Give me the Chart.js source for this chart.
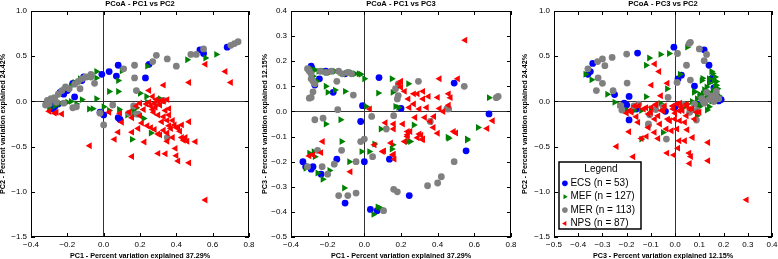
<!DOCTYPE html>
<html><head><meta charset="utf-8">
<script src="https://cdn.jsdelivr.net/npm/chart.js@4"></script>
<style>
html,body{margin:0;padding:0;background:#fff}
#wrap{position:relative;width:778px;height:259px;overflow:hidden;background:#fff}
canvas{position:absolute;top:0}
</style>
</head><body>
<div id="wrap">
<canvas id="c1" width="258" height="259" style="left:0"></canvas>
<canvas id="c2" width="260" height="259" style="left:258px"></canvas>
<canvas id="c3" width="260" height="259" style="left:518px"></canvas>
</div>
<script>
// ---------- DATA ----------
const seriesNames = ['ECS (n = 53)', 'MEF (n = 127)', 'MER (n = 113)', 'NPS (n = 87)'];
const panelTitles = ['PCoA - PC1 vs PC2', 'PCoA - PC1 vs PC3', 'PCoA - PC3 vs PC2'];
const axisPC1 = 'PC1 - Percent variation explained 37.29%';
const axisPC2 = 'PC2 - Percent variation explained 24.42%';
const axisPC3 = 'PC3 - Percent variation explained 12.15%';
const legendTitle = 'Legend';

const ticksPC1 = [-0.4, -0.2, 0.0, 0.2, 0.4, 0.6, 0.8];
const ticksPC2 = [-1.5, -1.0, -0.5, 0.0, 0.5, 1.0];
const ticksPC3v = [-0.5, -0.4, -0.3, -0.2, -0.1, 0.0, 0.1, 0.2, 0.3, 0.4];
const ticksPC3h = [-0.5, -0.4, -0.3, -0.2, -0.1, 0.0, 0.1, 0.2, 0.3, 0.4];

// Panel 1: PC1 (x) vs PC2 (y)
const ecs12 = [[0.68,0.60],[0.55,0.53],[0.53,0.57],[0.25,0.41],[0.23,0.26],[0.08,0.40],[0.03,0.33],[0.07,0.28],[-0.01,0.30],[-0.11,0.27],[-0.12,0.23],[-0.17,0.20],[-0.16,0.05],[-0.22,0.08],[-0.20,0.12],[-0.24,0.10],[-0.29,-0.05],[-0.27,-0.06],[-0.30,-0.02],[-0.25,-0.03],[0.00,-0.15],[-0.02,-0.12],[0.09,-0.20],[0.08,-0.18],[-0.28,-0.08]];
const mef12 = [[0.62,0.52],[0.56,0.48],[0.46,0.46],[0.24,0.39],[0.10,0.34],[0.08,0.23],[0.08,0.11],[0.03,0.11],[-0.04,0.33],[-0.04,0.26],[-0.08,0.27],[-0.13,0.25],[-0.16,0.21],[-0.18,0.17],[-0.22,0.13],[-0.25,0.07],[-0.27,0.04],[-0.29,0.01],[-0.04,0.03],[-0.06,-0.08],[-0.08,-0.085],[-0.15,-0.03],[-0.20,-0.01],[-0.24,-0.02],[-0.30,-0.08],[-0.27,-0.05],[0.31,0.03],[0.20,0.09],[0.235,0.055],[0.24,-0.01],[0.18,-0.07],[0.16,-0.10],[0.16,-0.14],[0.13,-0.15],[0.03,-0.10],[0.085,-0.09],[0.22,-0.19],[0.156,-0.42],[0.26,-0.35],[-0.12,0.02],[-0.18,0.00],[0.00,-0.06]];
const mer12 = [[0.74,0.66],[0.72,0.64],[0.70,0.62],[0.55,0.58],[0.51,0.52],[0.48,0.52],[0.40,0.39],[0.35,0.47],[0.29,0.51],[0.27,0.44],[0.17,0.40],[0.11,0.36],[0.17,0.26],[0.18,0.12],[-0.05,0.20],[-0.07,0.30],[-0.07,0.27],[-0.10,0.27],[-0.12,0.25],[-0.14,0.22],[-0.16,0.19],[-0.19,0.14],[-0.21,0.16],[-0.23,0.12],[-0.25,0.08],[-0.27,0.04],[-0.29,0.03],[-0.31,0.01],[-0.32,-0.04],[-0.30,-0.03],[-0.13,0.14],[-0.17,-0.07],[-0.15,-0.06],[-0.02,-0.13],[0.00,-0.26],[0.05,-0.04],[0.14,-0.13],[0.19,-0.14],[0.165,-0.05],[0.18,-0.14],[0.29,-0.03],[0.33,0.01],[0.35,-0.40],[-0.22,-0.02],[-0.26,-0.01]];
const nps12 = [[0.67,0.33],[0.70,0.21],[0.56,0.41],[0.47,0.21],[0.33,0.18],[0.25,0.12],[0.27,0.055],[0.32,0.01],[0.35,0.02],[0.33,0.00],[0.30,0.00],[0.235,-0.03],[0.26,-0.05],[0.285,-0.066],[0.22,-0.09],[0.275,-0.12],[0.34,-0.10],[0.156,-0.18],[0.32,-0.225],[0.35,-0.21],[0.38,-0.21],[0.47,-0.225],[0.24,-0.27],[0.26,-0.29],[0.33,-0.32],[0.37,-0.30],[0.40,-0.29],[0.41,-0.29],[0.42,-0.33],[0.31,-0.37],[0.38,-0.40],[0.45,-0.40],[0.46,-0.44],[0.505,-0.445],[0.224,-0.45],[0.156,-0.61],[0.30,-0.575],[0.34,-0.58],[0.395,-0.52],[0.40,-0.60],[0.41,-0.66],[0.47,-0.68],[0.156,-0.34],[0.08,-0.34],[-0.077,-0.49],[0.06,-0.42],[0.56,-1.09],[-0.30,-0.11],[-0.26,-0.12],[-0.23,-0.14],[-0.27,-0.13],[0.03,-0.12],[0.09,-0.13],[0.14,-0.12],[0.10,-0.23],[0.20,-0.16],[0.18,-0.05],[0.20,-0.02],[0.29,0.02],[0.36,-0.15],[0.43,-0.40],[0.30,-0.36],[0.36,-0.08],[0.25,-0.01],[0.28,-0.02],[0.31,-0.04],[0.27,-0.09],[0.30,-0.15],[0.33,-0.17],[0.39,-0.26],[0.36,-0.27],[0.28,-0.31],[0.35,-0.35],[0.43,-0.26],[0.44,-0.43],[0.35,-0.44],[0.19,-0.30],[0.21,-0.24]];

// Panel 2: PC1 (x) vs PC3 (y)
const ecs13 = [[-0.29,0.18],[-0.285,0.17],[-0.245,0.13],[-0.27,0.105],[-0.105,0.15],[-0.17,0.076],[-0.01,0.023],[0.08,0.135],[0.20,0.012],[0.49,0.113],[0.68,-0.01],[-0.02,-0.04],[0.555,-0.157],[-0.32,-0.22],[-0.335,-0.20],[-0.28,-0.22],[-0.236,-0.25],[-0.15,-0.19],[-0.105,-0.365],[0.00,-0.20],[0.033,-0.39],[0.07,-0.395],[0.137,-0.19],[0.245,-0.335],[-0.21,0.16],[-0.29,-0.23]];
const mef13 = [[-0.29,0.17],[-0.27,0.165],[-0.25,0.16],[-0.22,0.16],[-0.19,0.155],[-0.16,0.16],[-0.13,0.155],[-0.10,0.15],[-0.07,0.155],[-0.05,0.15],[-0.03,0.15],[-0.02,0.148],[0.00,0.13],[-0.28,0.14],[-0.26,0.12],[-0.21,0.10],[-0.20,0.076],[-0.16,0.085],[-0.105,0.08],[0.076,0.073],[0.15,0.13],[0.155,0.076],[0.17,0.02],[0.01,0.02],[0.24,0.11],[0.167,0.09],[0.186,0.016],[0.68,0.055],[0.62,-0.064],[0.46,-0.107],[0.56,-0.114],[0.27,-0.054],[0.25,-0.12],[0.15,-0.15],[0.09,-0.07],[-0.21,-0.05],[-0.13,-0.033],[-0.30,-0.166],[-0.276,-0.16],[-0.255,-0.245],[-0.227,-0.27],[-0.19,-0.235],[-0.124,-0.12],[-0.082,-0.20],[-0.11,-0.305],[-0.015,-0.16],[0.027,-0.16],[0.055,-0.13],[0.073,-0.38],[0.087,-0.385],[0.05,-0.41],[0.155,-0.133],[0.236,-0.12],[0.455,-0.103],[0.56,-0.11],[-0.32,-0.226],[-0.27,-0.18]];
const mer13 = [[-0.31,0.17],[-0.30,0.16],[-0.29,0.15],[-0.29,0.13],[-0.28,0.12],[-0.27,0.11],[-0.24,0.16],[-0.21,0.155],[-0.18,0.16],[-0.14,0.16],[-0.12,0.15],[-0.09,0.155],[-0.07,0.15],[-0.28,0.078],[-0.29,0.056],[-0.30,0.053],[-0.15,0.12],[-0.06,0.065],[-0.145,0.007],[-0.27,-0.033],[-0.225,-0.027],[0.185,0.11],[0.295,0.12],[0.545,0.10],[0.73,0.06],[0.72,0.055],[0.185,0.063],[0.18,0.05],[0.17,0.09],[0.46,0.01],[0.16,-0.017],[0.12,-0.07],[0.36,-0.04],[0.45,0.01],[-0.31,-0.22],[-0.255,-0.155],[-0.23,-0.22],[-0.20,-0.25],[-0.164,-0.21],[-0.124,-0.155],[-0.14,-0.335],[-0.09,-0.335],[-0.045,-0.325],[-0.045,-0.20],[-0.02,-0.12],[0.00,-0.11],[0.045,-0.18],[0.105,-0.395],[0.16,-0.31],[0.18,-0.32],[0.345,-0.296],[0.40,-0.285],[0.42,-0.26],[0.49,-0.20],[0.04,-0.02]];
const nps13 = [[0.55,0.284],[0.41,0.13],[0.51,0.13],[0.20,0.096],[0.22,0.08],[0.27,0.07],[0.29,0.07],[0.32,0.08],[0.32,0.05],[0.35,0.06],[0.40,0.056],[0.46,0.07],[0.47,0.055],[0.245,0.016],[0.30,0.01],[0.34,0.016],[0.41,0.012],[0.43,0.00],[0.46,0.025],[0.277,-0.024],[0.33,-0.024],[0.38,-0.02],[0.36,-0.04],[0.377,-0.064],[0.21,-0.05],[0.16,-0.05],[0.16,-0.07],[0.115,-0.045],[0.25,-0.08],[0.235,-0.10],[0.31,-0.095],[0.32,-0.11],[0.22,-0.12],[0.50,-0.086],[0.67,-0.068],[0.70,-0.037],[0.107,-0.157],[0.16,-0.17],[0.03,0.01],[0.19,0.11],[0.20,0.12],[-0.227,-0.12],[-0.28,-0.173],[-0.236,-0.164],[-0.30,-0.177],[-0.076,-0.24],[0.055,-0.133],[0.10,-0.16],[0.145,-0.126],[0.155,-0.173],[0.164,-0.19],[0.236,-0.08],[0.236,-0.093],[0.30,-0.09],[0.318,-0.113],[0.29,-0.105],[0.40,-0.087],[0.487,-0.08],[0.27,0.03],[0.24,0.05]];

// Panel 3: PC3 (x) vs PC2 (y)
const ecs32 = [[-0.005,0.60],[0.12,0.57],[0.14,0.40],[-0.155,0.535],[-0.34,0.42],[-0.36,0.30],[-0.35,0.33],[-0.25,0.075],[-0.19,0.055],[0.012,0.25],[0.026,0.29],[0.08,0.17],[0.155,0.26],[0.15,0.25],[0.155,0.045],[0.18,0.005],[0.17,0.02],[0.16,0.10],[-0.20,-0.04],[-0.16,-0.085],[-0.19,-0.205],[-0.04,-0.11],[0.00,-0.06],[0.10,-0.03],[0.16,0.15],[0.17,0.07],[-0.21,-0.02],[0.18,0.04],[0.19,0.02]];
const mef32 = [[0.05,0.60],[-0.025,0.53],[-0.06,0.52],[-0.107,0.48],[-0.12,0.40],[-0.37,0.30],[-0.345,0.24],[-0.28,0.08],[-0.12,0.052],[-0.033,0.14],[0.15,0.33],[0.155,0.31],[0.113,0.255],[0.14,0.25],[0.16,0.23],[0.164,0.16],[0.157,0.12],[0.078,0.10],[0.10,0.08],[0.115,0.085],[0.13,0.06],[0.17,0.08],[0.02,0.30],[0.11,0.23],[0.08,0.11],[0.14,0.10],[0.16,0.04],[0.15,0.00],[0.12,-0.02],[-0.25,-0.01],[-0.20,-0.096],[-0.17,-0.10],[-0.14,-0.10],[-0.06,-0.022],[0.095,-0.03],[0.132,-0.096],[0.09,-0.16],[0.06,-0.10],[-0.05,-0.343],[-0.139,-0.417],[-0.23,-0.04],[-0.10,-0.08],[0.04,-0.06],[0.17,0.18],[0.15,0.05],[0.18,0.02],[0.12,0.13],[0.13,0.16],[0.14,0.20],[0.165,0.27],[0.17,0.22],[0.175,0.14],[0.18,0.06],[0.165,0.00],[0.14,0.04],[0.11,0.05],[0.09,0.03],[0.07,0.00],[0.05,-0.03],[0.10,-0.06],[0.14,-0.06]];
const mer32 = [[0.063,0.653],[0.058,0.64],[0.10,0.58],[0.13,0.52],[0.12,0.45],[-0.30,0.47],[-0.26,0.487],[-0.20,0.524],[-0.32,0.44],[-0.36,0.36],[-0.29,0.395],[-0.318,0.26],[-0.30,0.20],[-0.325,0.12],[0.01,0.53],[0.047,0.40],[0.063,0.236],[-0.198,0.203],[-0.256,0.118],[0.008,0.21],[-0.029,0.044],[0.164,0.063],[0.17,0.05],[0.115,0.007],[0.14,0.02],[-0.224,-0.048],[-0.105,-0.148],[-0.11,-0.25],[0.088,-0.207],[-0.22,-0.096],[-0.11,-0.262],[-0.036,-0.417],[0.09,-0.10],[0.06,-0.12],[0.12,-0.02],[0.16,0.00],[-0.05,-0.06],[-0.15,-0.03],[0.03,-0.03],[0.13,0.10],[0.18,0.03],[0.15,0.06],[0.11,0.03],[0.08,-0.03],[0.17,0.11],[-0.17,-0.05],[-0.08,-0.09]];
const nps32 = [[-0.084,0.413],[-0.066,0.33],[-0.098,0.18],[-0.032,0.20],[-0.059,0.063],[-0.242,-0.498],[-0.173,-0.613],[-0.19,-0.336],[-0.153,-0.232],[-0.139,-0.41],[-0.118,-0.387],[-0.11,-0.288],[-0.085,-0.343],[-0.07,-0.41],[-0.063,-0.25],[-0.036,-0.306],[-0.015,-0.325],[-0.033,-0.572],[-0.005,-0.594],[0.012,-0.517],[0.017,-0.435],[0.04,-0.435],[0.008,-0.306],[0.019,-0.214],[0.04,-0.232],[0.05,-0.314],[0.072,-0.399],[0.058,-0.572],[0.065,-0.609],[0.06,-0.686],[0.136,-0.454],[0.136,-0.657],[-0.07,-0.16],[-0.03,-0.196],[-0.18,-0.12],[0.08,-0.196],[0.047,-0.159],[0.017,-0.103],[0.295,-1.089],[-0.15,-0.05],[-0.12,-0.07],[-0.08,-0.04],[-0.05,-0.10],[-0.01,-0.05],[0.02,-0.02],[0.05,-0.05],[0.07,-0.08],[0.10,-0.12],[-0.20,-0.13],[-0.16,-0.17],[-0.10,-0.12],[0.00,-0.13],[0.03,-0.10],[-0.187,-0.10],[-0.167,-0.05],[-0.13,-0.085],[-0.098,-0.066],[-0.077,-0.03],[-0.056,-0.10],[-0.043,-0.05],[-0.008,-0.085],[0.008,-0.03],[0.026,-0.066],[0.047,-0.03],[0.06,-0.085],[0.088,-0.12],[-0.022,-0.214],[-0.001,-0.196],[-0.084,-0.196],[-0.11,-0.14]];

// ---------- STYLE ----------
Chart.defaults.font.family = '"Liberation Sans", Arial, sans-serif';
Chart.defaults.color = '#000';
const seriesStyle = [
  {color: '#0000ff', pointStyle: 'circle',   rotation: 0,   radius: 3.4, order: 3},
  {color: '#008000', pointStyle: 'triangle', rotation: 90,  radius: 4,   order: 2},
  {color: '#808080', pointStyle: 'circle',   rotation: 0,   radius: 3.4, order: 1},
  {color: '#ff0000', pointStyle: 'triangle', rotation: -90, radius: 4,   order: 0}
];

const fmt = v => (v < -1e-9 ? '\u2212' + Math.abs(v).toFixed(1) : Math.abs(v).toFixed(1));

const framePlugin = {
  id: 'frame',
  beforeDraw(chart) {
    const lg = chart.legend;
    if (lg && lg.options.display) {
      const ctx = chart.ctx;
      ctx.save();
      ctx.fillStyle = '#fff';
      ctx.strokeStyle = '#000';
      ctx.lineWidth = 1.5;
      ctx.fillRect(lg.left - 2, lg.top, 82, 67);
      ctx.strokeRect(lg.left - 2, lg.top, 82, 67);
      ctx.restore();
    }
  },
  afterLayout(chart) {
    const lg = chart.legend;
    if (lg && lg.options.display) {
      const a = chart.chartArea;
      lg.left = a.left + 7;
      lg.top = 162;
      lg.width = 80;
      lg.right = lg.left + lg.width;
      lg.height = 90;
      lg.bottom = lg.top + lg.height;
      if (!lg._titleShifted) {
        const orig = lg._drawTitle;
        lg._drawTitle = function () {
          const w = this.width;
          this.width = 48;
          orig.call(this);
          this.width = w;
        };
        lg._titleShifted = true;
      }
    }
  },
  afterDatasetsDraw(chart) {
    const {ctx, chartArea: a, scales: {x, y}} = chart;
    ctx.save();
    ctx.strokeStyle = '#000';
    ctx.lineWidth = 1;
    ctx.beginPath();
    x.ticks.forEach(t => {
      const px = Math.round(x.getPixelForValue(t.value)) + 0.5;
      ctx.moveTo(px, a.bottom); ctx.lineTo(px, a.bottom - 4);
      ctx.moveTo(px, a.top); ctx.lineTo(px, a.top + 4);
    });
    y.ticks.forEach(t => {
      const py = Math.round(y.getPixelForValue(t.value)) + 0.5;
      ctx.moveTo(a.left, py); ctx.lineTo(a.left + 4, py);
      ctx.moveTo(a.right, py); ctx.lineTo(a.right - 4, py);
    });
    ctx.stroke();
    ctx.strokeRect(Math.round(a.left) + 0.5, Math.round(a.top) + 0.5, Math.round(a.right - a.left) - 1, Math.round(a.bottom - a.top) - 1);
    ctx.restore();
  }
};

function makeSets(arrs) {
  return arrs.map((arr, i) => ({
    label: seriesNames[i],
    data: arr.map(([x, y]) => ({x, y})),
    order: seriesStyle[i].order,
    backgroundColor: seriesStyle[i].color,
    borderColor: seriesStyle[i].color,
    borderWidth: 0,
    pointStyle: seriesStyle[i].pointStyle,
    rotation: seriesStyle[i].rotation,
    pointRadius: seriesStyle[i].radius,
    pointHoverRadius: seriesStyle[i].radius
  }));
}

function makeChart(id, arrs, xTicks, yTicks, xTitle, yTitle, title, yWidth, rightPad, yTitlePad, showLegend) {
  const gridColor = c => (c.tick && Math.abs(c.tick.value) < 1e-9 ? '#333' : 'rgba(0,0,0,0)');
  return new Chart(document.getElementById(id), {
    type: 'scatter',
    data: {datasets: makeSets(arrs)},
    options: {
      responsive: false,
      animation: false,
      events: [],
      layout: {padding: {left: 0, right: rightPad, top: 0, bottom: 0}},
      scales: {
        x: {
          type: 'linear', min: xTicks[0], max: xTicks[xTicks.length - 1],
          afterBuildTicks: s => { s.ticks = xTicks.map(v => ({value: v})); },
          afterFit: s => { s.height = 22; s.paddingLeft = 0; s.paddingRight = 0; },
          grid: {drawTicks: false, color: gridColor, lineWidth: 1},
          border: {display: false},
          ticks: {callback: fmt, color: '#000', font: {size: 8}, padding: 3, maxRotation: 0, autoSkip: false},
          title: {display: true, text: xTitle, color: '#000', font: {size: 7.2, weight: 'bold', lineHeight: 0.8}, padding: {top: 0, bottom: 0}}
        },
        y: {
          type: 'linear', min: yTicks[0], max: yTicks[yTicks.length - 1],
          afterBuildTicks: s => { s.ticks = yTicks.map(v => ({value: v})); },
          afterFit: s => { s.width = yWidth; s.paddingTop = 0; s.paddingBottom = 0; },
          grid: {drawTicks: false, color: gridColor, lineWidth: 1},
          border: {display: false},
          ticks: {callback: fmt, color: '#000', font: {size: 8}, padding: 4, autoSkip: false},
          title: {display: true, text: yTitle, color: '#000', font: {size: 7.2, weight: 'bold', lineHeight: 0.8}, padding: {top: yTitlePad, bottom: 0}}
        }
      },
      plugins: {
        title: {display: true, text: title, color: '#000', fullSize: false, font: {size: 7.6, weight: 'bold', lineHeight: 1}, padding: {top: 0, bottom: 3.4}},
        tooltip: {enabled: false},
        legend: showLegend ? {
          display: true, position: 'chartArea', align: 'start',
          title: {display: true, text: legendTitle, position: 'center', color: '#000', font: {size: 10, lineHeight: 1}, padding: {top: 2.3, bottom: 0.6}},
          labels: {usePointStyle: true, boxWidth: 1, boxHeight: 4, padding: 3.4, color: '#000', font: {size: 10},
                   sort: (a, b) => a.datasetIndex - b.datasetIndex}
        } : {display: false}
      }
    },
    plugins: [framePlugin]
  });
}

makeChart('c1', [ecs12, mef12, mer12, nps12], ticksPC1, ticksPC2, axisPC1, axisPC2, panelTitles[0], 31, 9, 0, false);
makeChart('c2', [ecs13, mef13, mer13, nps13], ticksPC1, ticksPC3v, axisPC1, axisPC3, panelTitles[1], 33, 7, 3.9, false);
makeChart('c3', [ecs32, mef32, mer32, nps32], ticksPC3h, ticksPC2, axisPC3, axisPC2, panelTitles[2], 36, 6, 4.4, true);
</script>
</body></html>
